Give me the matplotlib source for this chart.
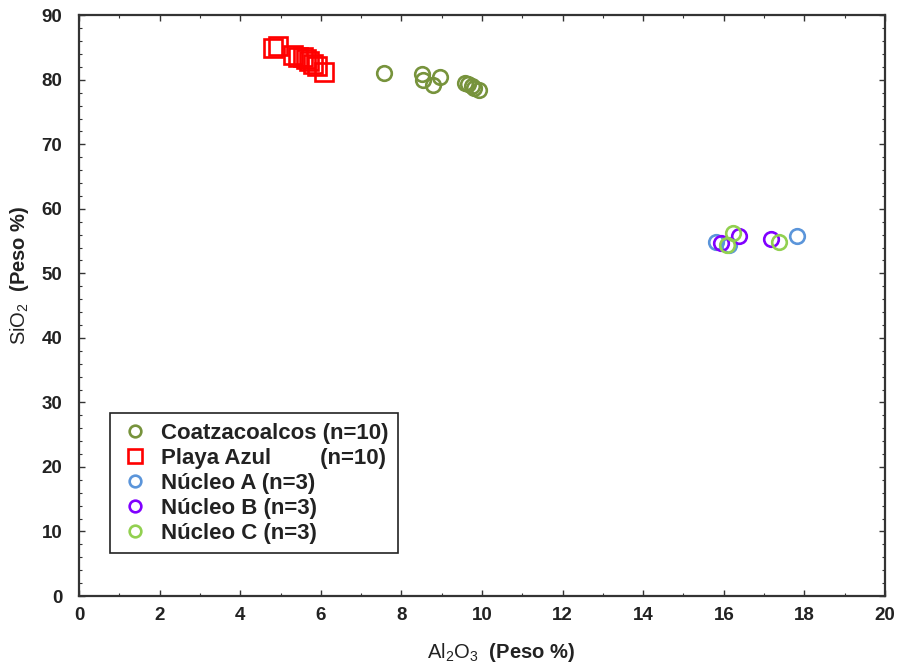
import matplotlib
matplotlib.use("Agg")
import matplotlib.pyplot as plt
from matplotlib.ticker import MultipleLocator

plt.rcParams['font.family'] = ['Liberation Sans', 'DejaVu Sans']
plt.rcParams['mathtext.fontset'] = 'custom'
plt.rcParams['mathtext.rm'] = 'Liberation Sans'
plt.rcParams['mathtext.bf'] = 'Liberation Sans:bold'

# Al2O3 / SiO2 (peso %)
coatza_al = [7.57, 8.51, 8.54, 8.78, 8.96, 9.58, 9.65, 9.75, 9.80, 9.93]
coatza_si = [81.0, 80.9, 79.9, 79.2, 80.4, 79.5, 79.3, 79.0, 78.7, 78.4]

playa_al = [4.81, 4.94, 5.31, 5.43, 5.56, 5.63, 5.71, 5.81, 5.91, 6.08]
playa_si = [85.0, 85.2, 83.8, 83.6, 83.5, 83.3, 82.9, 82.4, 82.1, 81.2]

nucA_al = [15.80, 16.13, 17.82]
nucA_si = [54.8, 54.4, 55.8]
nucB_al = [15.93, 16.38, 17.17]
nucB_si = [54.7, 55.8, 55.3]
nucC_al = [16.08, 16.23, 17.37]
nucC_si = [54.4, 56.2, 54.8]

fig = plt.figure(figsize=(9, 6.64), dpi=100)
ax = fig.add_axes([0.0878, 0.1024, 0.8955, 0.8746])

ms, mew = 10.5, 1.9
ax.plot(coatza_al, coatza_si, 'o', ms=ms, mew=mew, mfc='none', mec='#77933C',
        label='Coatzacoalcos (n=10)')
ax.plot(playa_al, playa_si, 's', ms=ms + 2, mew=mew, mfc='none', mec='#FF0000',
        label='Playa Azul        (n=10)')
ax.plot(nucA_al, nucA_si, 'o', ms=ms, mew=mew, mfc='none', mec='#5B95DA',
        label='Núcleo A (n=3)')
ax.plot(nucB_al, nucB_si, 'o', ms=ms, mew=mew, mfc='none', mec='#8000FF',
        label='Núcleo B (n=3)')
ax.plot(nucC_al, nucC_si, 'o', ms=ms, mew=mew, mfc='none', mec='#92D050',
        label='Núcleo C (n=3)')

ax.set_xlim(0, 20)
ax.set_ylim(0, 90)
ax.xaxis.set_major_locator(MultipleLocator(2))
ax.xaxis.set_minor_locator(MultipleLocator(1))
ax.yaxis.set_major_locator(MultipleLocator(10))
ax.yaxis.set_minor_locator(MultipleLocator(2))
ax.tick_params(which='both', direction='in', top=True, right=True,
               colors='#333333', labelcolor='#222222')
ax.tick_params(which='major', length=4, width=1)
ax.tick_params(which='minor', length=2, width=0.8)
for lab in ax.get_xticklabels() + ax.get_yticklabels():
    lab.set_fontweight('bold')
    lab.set_fontsize(13.5)
ax.tick_params(axis='x', pad=8)
ax.tick_params(axis='y', pad=12)
for sp in ax.spines.values():
    sp.set_linewidth(1.6)
    sp.set_color('#333333')

ax.set_xlabel(r'$\mathrm{Al_2O_3}$  (Peso %)', fontsize=14.5, fontweight='bold',
              color='#222222')
ax.set_ylabel(r'$\mathrm{SiO_2}$  (Peso %)', fontsize=14.5, fontweight='bold',
              color='#222222')
ax.xaxis.set_label_coords(0.5236, -0.078)
ax.yaxis.set_label_coords(-0.059, 0.552)

leg = ax.legend(loc='lower left', bbox_to_anchor=(0.038, 0.074), fancybox=False,
                edgecolor='#222222', framealpha=1, borderpad=0.42,
                handlelength=1.4, handletextpad=0.5, labelspacing=0.18,
                borderaxespad=0,
                prop={'weight': 'bold', 'size': 16}, markerscale=0.8)
leg.get_frame().set_linewidth(1.2)
for t in leg.get_texts():
    t.set_color('#222222')

fig.savefig('out.png', dpi=100)
